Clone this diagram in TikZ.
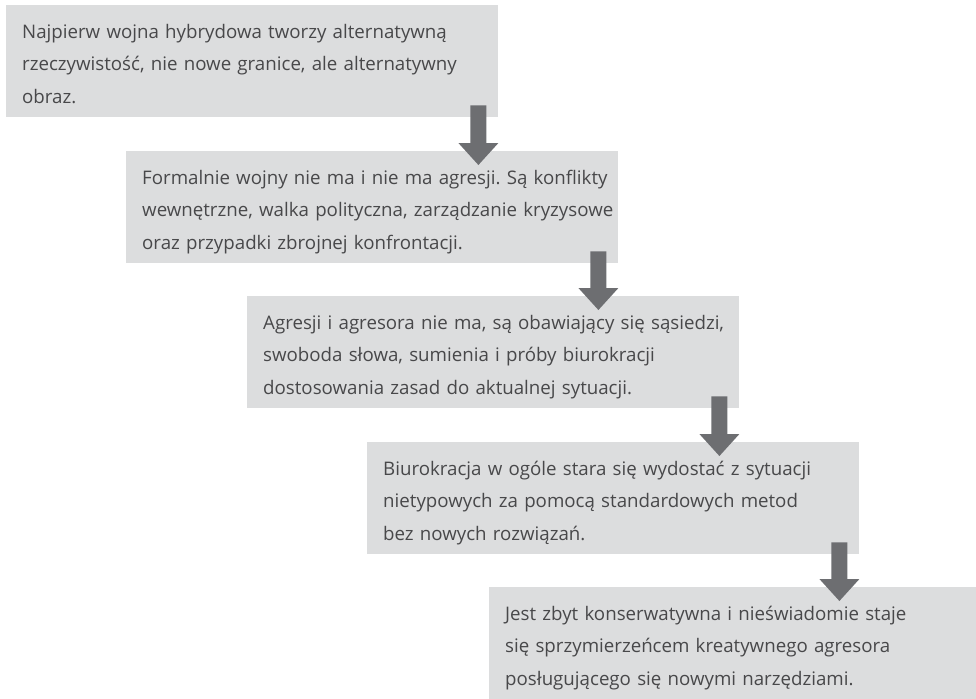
\documentclass[tikz,border=0pt]{standalone}
\usepackage{fontspec}
\setmainfont{Open Sans}
\usepackage{tikz}
\usetikzlibrary{calc}
\frenchspacing
\definecolor{boxgray}{HTML}{DCDDDE}
\definecolor{arrowgray}{HTML}{6D6E71}
\definecolor{textgray}{HTML}{48484A}
\tikzset{
  stage/.style={fill=boxgray, anchor=north west, align=left,
    text=textgray, text width=492pt, inner xsep=0pt, inner ysep=0pt,
    minimum width=492pt, minimum height=112pt,
    execute at begin node={\leftskip=16pt\rule{0pt}{25pt}},
    execute at end node={\rule[-6pt]{0pt}{6pt}},
    font={\fontsize{18.7}{32.5}\selectfont}}
}
% thick block arrow from the bottom of one box into the next one
\newcommand{\nextarrow}[2]{%
  \fill[arrowgray] let \p1=(#1.south east), \p2=(#2.north) in
    (\x1-28pt,\y1+12pt) -- (\x1-12pt,\y1+12pt) -- (\x1-12pt,\y2+8pt)
    -- (\x1,\y2+8pt) -- (\x1-20pt,\y2-14pt) -- (\x1-40pt,\y2+8pt)
    -- (\x1-28pt,\y2+8pt) -- cycle;}

\begin{document}
\begin{tikzpicture}[x=1pt,y=-1pt]
  \useasboundingbox (0,0) rectangle (976,698);
  \clip (0,0) rectangle (976,698);
  \node[stage] (s1) at (6,5) {Najpierw wojna hybrydowa tworzy alternatywną\\
    rzeczywistość, nie nowe granice, ale alternatywny\\ obraz.};
  \node[stage] (s2) at (126,151) {Formalnie wojny nie ma i nie ma agresji. Są konflikty\\
    wewnętrzne, walka polityczna, zarządzanie kryzysowe\\
    oraz przypadki zbrojnej konfrontacji.};
  \node[stage] (s3) at (247,296) {Agresji i agresora nie ma, są obawiający się sąsiedzi,\\
    swoboda słowa, sumienia i próby biurokracji\\
    dostosowania zasad do aktualnej sytuacji.};
  \node[stage] (s4) at (367,442) {Biurokracja w ogóle stara się wydostać z sytuacji\\
    nietypowych za pomocą standardowych metod\\
    bez nowych rozwiązań.};
  \node[stage] (s5) at (489,587) {Jest zbyt konserwatywna i nieświadomie staje\\
    się sprzymierzeńcem kreatywnego agresora\\
    posługującego się nowymi narzędziami.};
  \nextarrow{s1}{s2}
  \nextarrow{s2}{s3}
  \nextarrow{s3}{s4}
  \nextarrow{s4}{s5}
\end{tikzpicture}
\end{document}
